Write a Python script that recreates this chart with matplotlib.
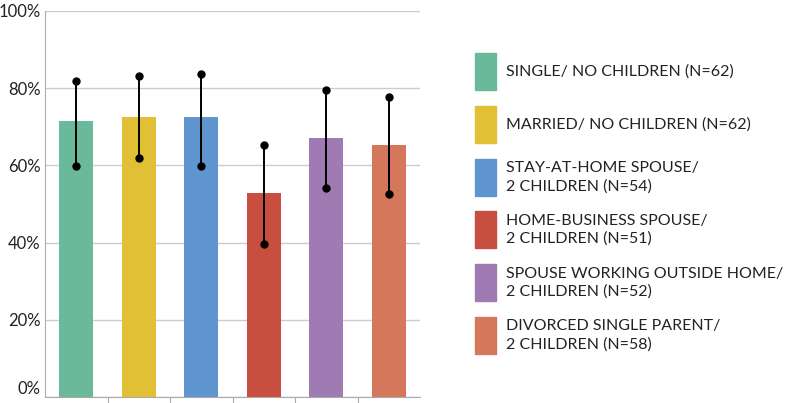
import matplotlib.pyplot as plt
from matplotlib.patches import Rectangle

# data
groups = ["SINGLE/ NO CHILDREN (N=62)",
          "MARRIED/ NO CHILDREN (N=62)",
          "STAY-AT-HOME SPOUSE/\n2 CHILDREN (N=54)",
          "HOME-BUSINESS SPOUSE/\n2 CHILDREN (N=51)",
          "SPOUSE WORKING OUTSIDE HOME/\n2 CHILDREN (N=52)",
          "DIVORCED SINGLE PARENT/\n2 CHILDREN (N=58)"]
values = [71.5, 72.5, 72.5, 52.8, 67.0, 65.2]
err_low = [59.8, 61.8, 59.8, 39.7, 54.2, 52.7]
err_high = [81.9, 83.2, 83.8, 65.3, 79.6, 77.6]
colors = ["#6ab99a", "#e2c036", "#6096d0", "#c84e3f", "#a07bb3", "#d5775b"]
yticks = [0, 20, 40, 60, 80, 100]

plt.rcParams["font.family"] = ["Lato", "DejaVu Sans"]

fig = plt.figure(figsize=(7.96, 4.03), dpi=100)
ax = fig.add_axes([45 / 796, 6 / 403, 375 / 796, 386 / 403])

x = list(range(len(values)))
ax.bar(x, values, width=0.54, color=colors, zorder=2)
for i in x:
    ax.plot([i, i], [err_low[i], err_high[i]], color="black", lw=1.4,
            marker="o", markersize=5, zorder=3)

ax.set_xlim(-0.5, len(values) - 0.5)
ax.set_ylim(0, 100)
ax.set_yticks(yticks)
ax.set_yticklabels([f"{t}%" for t in yticks], fontsize=12, color="#222222")
ax.tick_params(axis="y", length=0, pad=3)
ax.set_xticks([i + 0.5 for i in x[:-1]])
ax.set_xticklabels([])
ax.tick_params(axis="x", length=5, color="#aaaaaa", direction="out")
ax.grid(axis="y", color="#cccccc", lw=1, zorder=0)
for s in ["top", "right"]:
    ax.spines[s].set_visible(False)
for s in ["left", "bottom"]:
    ax.spines[s].set_color("#aaaaaa")
# keep the 0% label fully inside the figure
ax.get_yticklabels()[0].set_va("bottom")

# legend drawn as patches + text
lax = fig.add_axes([0, 0, 1, 1])
lax.set_xlim(0, 796)
lax.set_ylim(403, 0)
lax.axis("off")
for i, (g, c) in enumerate(zip(groups, colors)):
    y0 = 53 + i * 52.8
    lax.add_patch(Rectangle((475, y0), 21, 37, color=c))
    lax.text(506, y0 + 18.5, g, fontsize=11.5, va="center", ha="left",
             color="#222222", linespacing=1.35)

fig.savefig("out.png", dpi=100)
